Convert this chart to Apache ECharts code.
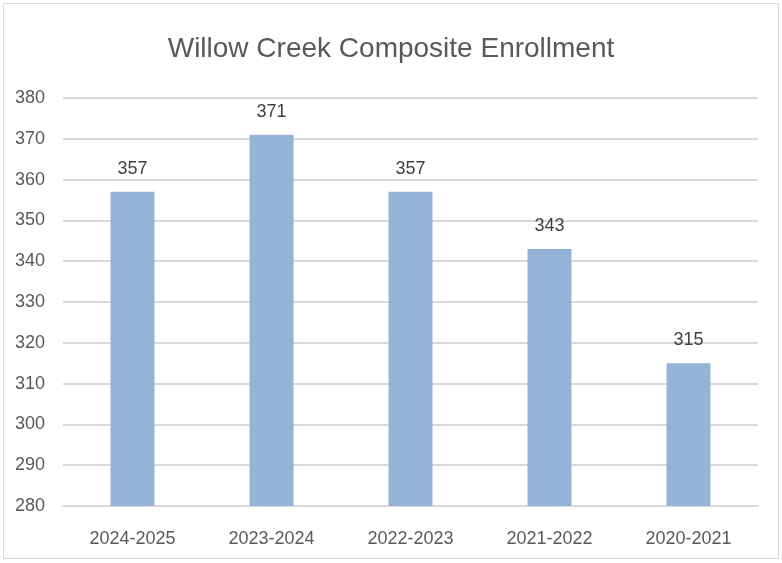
<!DOCTYPE html>
<html><head><meta charset="utf-8">
<script src="https://cdn.jsdelivr.net/npm/echarts@6/dist/echarts.min.js"></script>
<style>
html,body{margin:0;padding:0;background:#fff;}
#wrap{position:absolute;left:3px;top:3px;width:776px;height:556px;border:1px solid #d9d9d9;box-sizing:border-box;}
#c{position:absolute;left:0;top:0;width:782px;height:563px;}
</style></head>
<body>
<div id="wrap"></div>
<div id="c"></div>
<script>
const categories = ['2024-2025','2023-2024','2022-2023','2021-2022','2020-2021'];
const enrollment = [357, 371, 357, 343, 315];
const yMin = 280, yMax = 380, yStep = 10;
const FONT = '"Liberation Sans Narrow", "Liberation Sans", sans-serif';
const chart = echarts.init(document.getElementById('c'));
chart.setOption({
  animation:false,
  title:{text:'Willow Creek Composite Enrollment',left:'center',top:30,
    textStyle:{fontFamily:FONT,fontSize:28,fontWeight:'normal',color:'#595959'}},
  grid:{left:63,right:24,top:98,bottom:57},
  xAxis:{type:'category',data:categories,
    axisLine:{show:true,lineStyle:{color:'#d9d9d9',width:2}},axisTick:{show:false},
    axisLabel:{fontFamily:FONT,fontSize:18,color:'#595959',margin:24}},
  yAxis:{type:'value',min:yMin,max:yMax,interval:yStep,
    axisLine:{show:false},axisTick:{show:false},
    splitLine:{lineStyle:{color:'#d9d9d9',width:2}},
    axisLabel:{fontFamily:FONT,fontSize:18,color:'#595959',margin:18}},
  series:[{type:'bar',data:enrollment,barWidth:44,
    itemStyle:{color:'#95b3d7'},
    label:{show:true,position:'top',distance:14,fontFamily:FONT,fontSize:18,color:'#404040'}}]
});
</script>
</body></html>
